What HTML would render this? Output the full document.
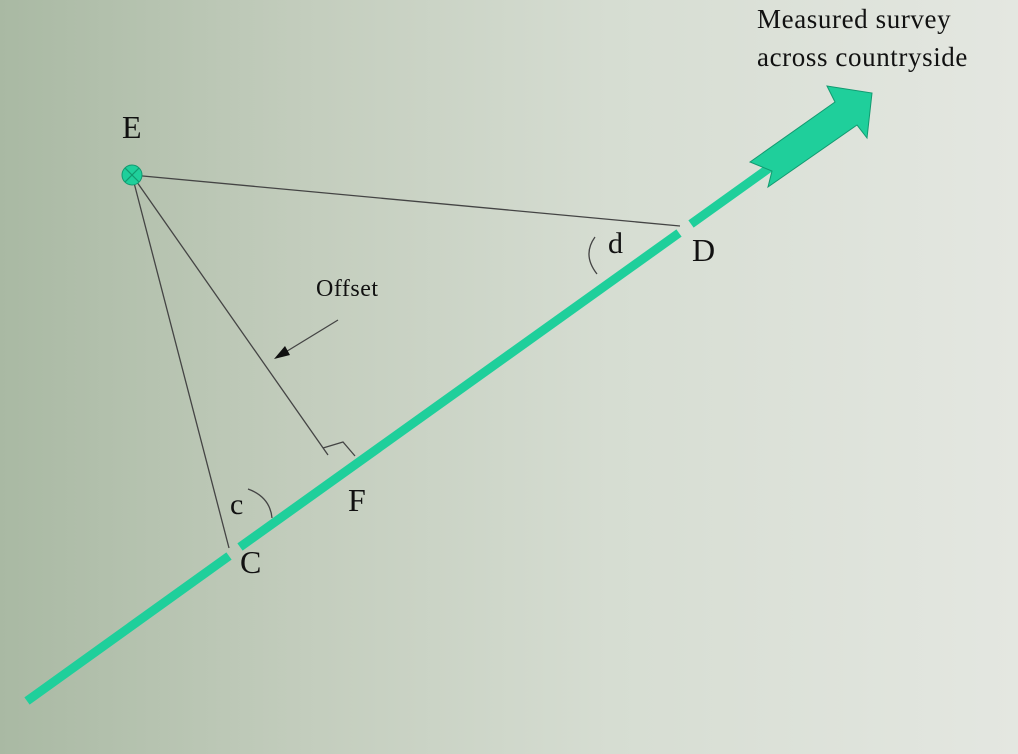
<!DOCTYPE html>
<html><head><style>
html,body{margin:0;padding:0}
body{width:1018px;height:754px;overflow:hidden;background:linear-gradient(90deg,#a9b9a3 0%,#c3cdbd 30%,#d6ddd2 60%,#e4e7e1 100%);}
svg{position:absolute;left:0;top:0}
text{font-family:"Liberation Serif",serif;fill:#111}
</style></head><body>
<svg width="1018" height="754" viewBox="0 0 1018 754">
<g stroke="#1fcf9b" stroke-width="9" stroke-linecap="butt">
<line x1="27" y1="701" x2="229" y2="556"/>
<line x1="240" y1="547" x2="679" y2="233"/>
<line x1="691" y1="224" x2="772" y2="166"/>
</g>
<polygon points="750,162 835,102 827,86 872,93 867,138 857,125 768,187 772,171" fill="#1fcf9b" stroke="#129a70" stroke-width="1"/>
<g stroke="#444" stroke-width="1.3" fill="none">
<line x1="132" y1="175" x2="680" y2="226"/>
<line x1="132" y1="175" x2="229" y2="548"/>
<line x1="132" y1="175" x2="328" y2="455"/>
<polyline points="323,448 343,442 355,456"/>
<path d="M248,489 Q270,497 272,518"/>
<path d="M595,237 Q582,255 597,274"/>
<line x1="338" y1="320" x2="284" y2="353"/>
</g>
<polygon points="274,359 285,346 290,355" fill="#111"/>
<circle cx="132" cy="175" r="10" fill="#1fcf9b" stroke="#129a70" stroke-width="1"/>
<g stroke="#129a70" stroke-width="1.2"><line x1="125" y1="168" x2="139" y2="182"/><line x1="139" y1="168" x2="125" y2="182"/></g>
<text x="122" y="138" font-size="32">E</text>
<text x="316" y="296" font-size="24" letter-spacing="0.5">Offset</text>
<text x="608" y="253" font-size="30">d</text>
<text x="692" y="261" font-size="32">D</text>
<text x="348" y="511" font-size="32">F</text>
<text x="230" y="514" font-size="30">c</text>
<text x="240" y="573" font-size="32">C</text>
<text x="757" y="28" font-size="27" letter-spacing="0.6">Measured survey</text>
<text x="757" y="66" font-size="27" letter-spacing="0.6">across countryside</text>
</svg>
</body></html>
